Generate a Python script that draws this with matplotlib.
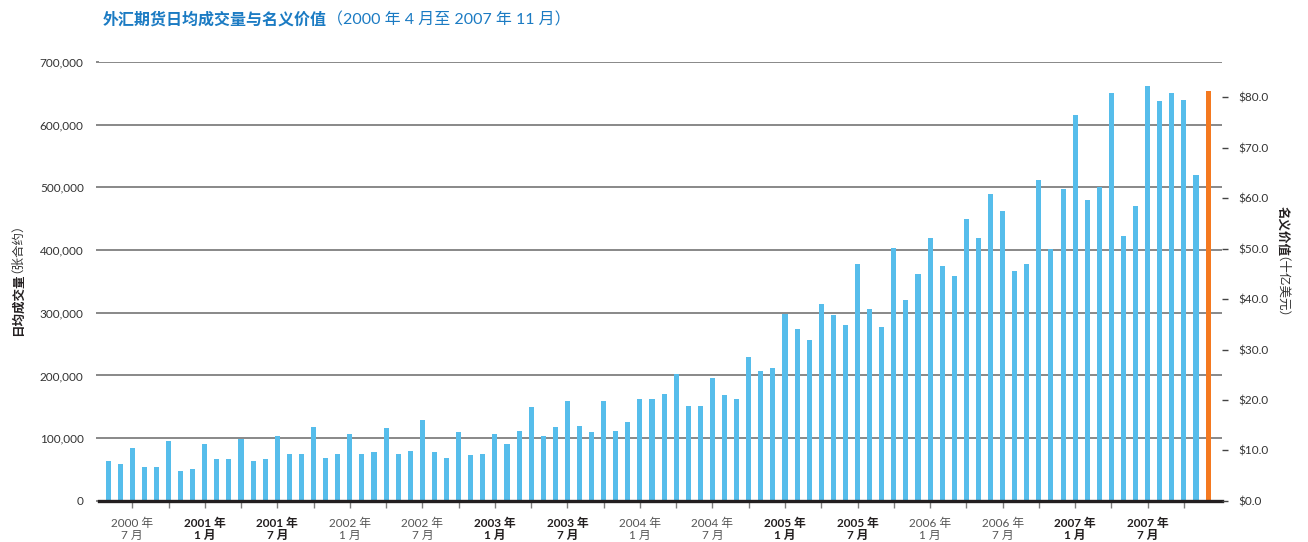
import numpy as np
import matplotlib
matplotlib.use("Agg")
import matplotlib.pyplot as plt
from matplotlib.ticker import FuncFormatter, FixedLocator

plt.rcParams['font.family'] = ['Lato', 'Noto Sans CJK SC', 'DejaVu Sans']
CJK = ['Noto Sans CJK SC', 'DejaVu Sans']

# 日均成交量（千张合约），2000 年 4 月 - 2007 年 11 月，每月一根柱
volume_k = [
    64, 59, 85, 54, 54, 95, 48, 51, 90, 67, 67, 99,
    64, 67, 104, 75, 74, 117, 69, 74, 106, 74, 78, 116,
    75, 80, 129, 78, 68, 109, 73, 75, 107, 91, 112, 149,
    104, 118, 160, 120, 109, 160, 112, 126, 163, 163, 170, 203,
    152, 151, 196, 169, 162, 230, 207, 212, 298, 274, 256, 314,
    296, 280, 378, 306, 278, 404, 320, 362, 419, 374, 359, 449,
    420, 490, 462, 366, 378, 512, 401, 498, 616, 480, 500, 651,
    422, 470, 661, 637, 651, 640, 520, 654,
]
tick_labels = [
    "2000 年\n7 月", "2001 年\n1 月", "2001 年\n7 月", "2002 年\n1 月",
    "2002 年\n7 月", "2003 年\n1 月", "2003 年\n7 月", "2004 年\n1 月",
    "2004 年\n7 月", "2005 年\n1 月", "2005 年\n7 月", "2006 年\n1 月",
    "2006 年\n7 月", "2007 年\n1 月", "2007 年\n7 月",
]
bold_years = ["2001", "2003", "2005", "2007"]
left_ticks = [0, 100000, 200000, 300000, 400000, 500000, 600000, 700000]
right_ticks = [0, 10, 20, 30, 40, 50, 60, 70, 80]

title_bold = "外汇期货日均成交量与名义价值"
title_rest = "（2000 年 4 月至 2007 年 11 月）"

BLUE = "#56bdeb"
ORANGE = "#f47920"
TITLE_BLUE = "#1b7bc3"

volume = np.array(volume_k) * 1000
n = len(volume)
x = np.arange(n)
colors = [BLUE] * (n - 1) + [ORANGE]

fig = plt.figure(figsize=(13.08, 5.42), dpi=100)
W, H = 1308, 542
ax_left, ax_right = 99 / W, 1222 / W
ax_bottom = (H - 500.8) / H
ax_top = (H - 62) / H
ax = fig.add_axes([ax_left, ax_bottom, ax_right - ax_left, ax_top - ax_bottom])

ax.bar(x, volume, width=0.42, color=colors, zorder=3)
ax.set_xlim(-0.75, 92.15)
ax.set_ylim(0, 700000)

# 网格与坐标轴
ax.set_yticks(left_ticks)
ax.yaxis.set_major_formatter(FuncFormatter(lambda v, p: f"{int(v):,}"))
ax.grid(axis="y", color="#7f7f7f", lw=1.3, zorder=1)
ax.grid(axis="x", visible=False)
for s in ["top", "right", "left"]:
    ax.spines[s].set_visible(False)
ax.spines["bottom"].set_linewidth(2.4)
ax.spines["bottom"].set_color("#231f20")
ax.spines["bottom"].set_zorder(4)
ax.tick_params(axis="y", length=2, width=1.3, color="#7f7f7f", pad=9,
               labelsize=8.5, labelcolor="#333333")

ax.xaxis.set_major_locator(FixedLocator(np.arange(2, n, 6)))
ax.xaxis.set_minor_locator(FixedLocator(np.arange(2, n, 3)))
ax.set_xticklabels(tick_labels)
ax.tick_params(axis="x", which="both", length=5, width=1, color="#808080",
               direction="out")
ax.tick_params(axis="x", which="major", pad=7, labelsize=8.5)
for lab in ax.get_xticklabels():
    lab.set_linespacing(1.15)
    if lab.get_text()[:4] in bold_years:
        lab.set_fontweight("bold")
        lab.set_color("#231f20")
    else:
        lab.set_color("#555555")

# 右轴：名义价值（十亿美元）
ax2 = ax.twinx()
px_per_unit = 403.3 / 80
ax2.set_ylim(0, (500.8 - 62) / px_per_unit)
ax2.set_yticks(right_ticks)
ax2.yaxis.set_major_formatter(FuncFormatter(lambda v, p: f"${v:.1f}"))
for s in ax2.spines.values():
    s.set_visible(False)
ax2.tick_params(axis="y", length=4.5, width=1, color="#444444", pad=7,
                labelsize=8.5, labelcolor="#333333")

# 轴标题（粗体 + 常规）。全角括号旋转后会向右偏，常规部分往左挪一点补偿
paren_fix = 8
lx, ly = 22, H - 273
fig.text(lx / W, ly / H, "日均成交量", rotation=90, rotation_mode="anchor",
         fontsize=9, family=CJK, fontweight="bold", color="#231f20",
         ha="right", va="baseline")
fig.text((lx - paren_fix) / W, ly / H, "（张合约）", rotation=90,
         rotation_mode="anchor", fontsize=9, family=CJK, color="#333333",
         ha="left", va="baseline")
rx, ry = 1279, H - 256
fig.text(rx / W, ry / H, "名义价值", rotation=-90, rotation_mode="anchor",
         fontsize=9, family=CJK, fontweight="bold", color="#231f20",
         ha="right", va="baseline")
fig.text((rx - paren_fix) / W, ry / H, "（十亿美元）", rotation=-90,
         rotation_mode="anchor", fontsize=9, family=CJK, color="#333333",
         ha="left", va="baseline")

# 标题
t1 = fig.text(103 / W, (H - 20) / H, title_bold, fontsize=11.5, fontweight="bold",
              color=TITLE_BLUE, ha="left", va="center")
ax.annotate(title_rest, xy=(1, 0.5), xycoords=t1, fontsize=11.5,
            color=TITLE_BLUE, ha="left", va="center")

fig.savefig("out.png", dpi=100)
